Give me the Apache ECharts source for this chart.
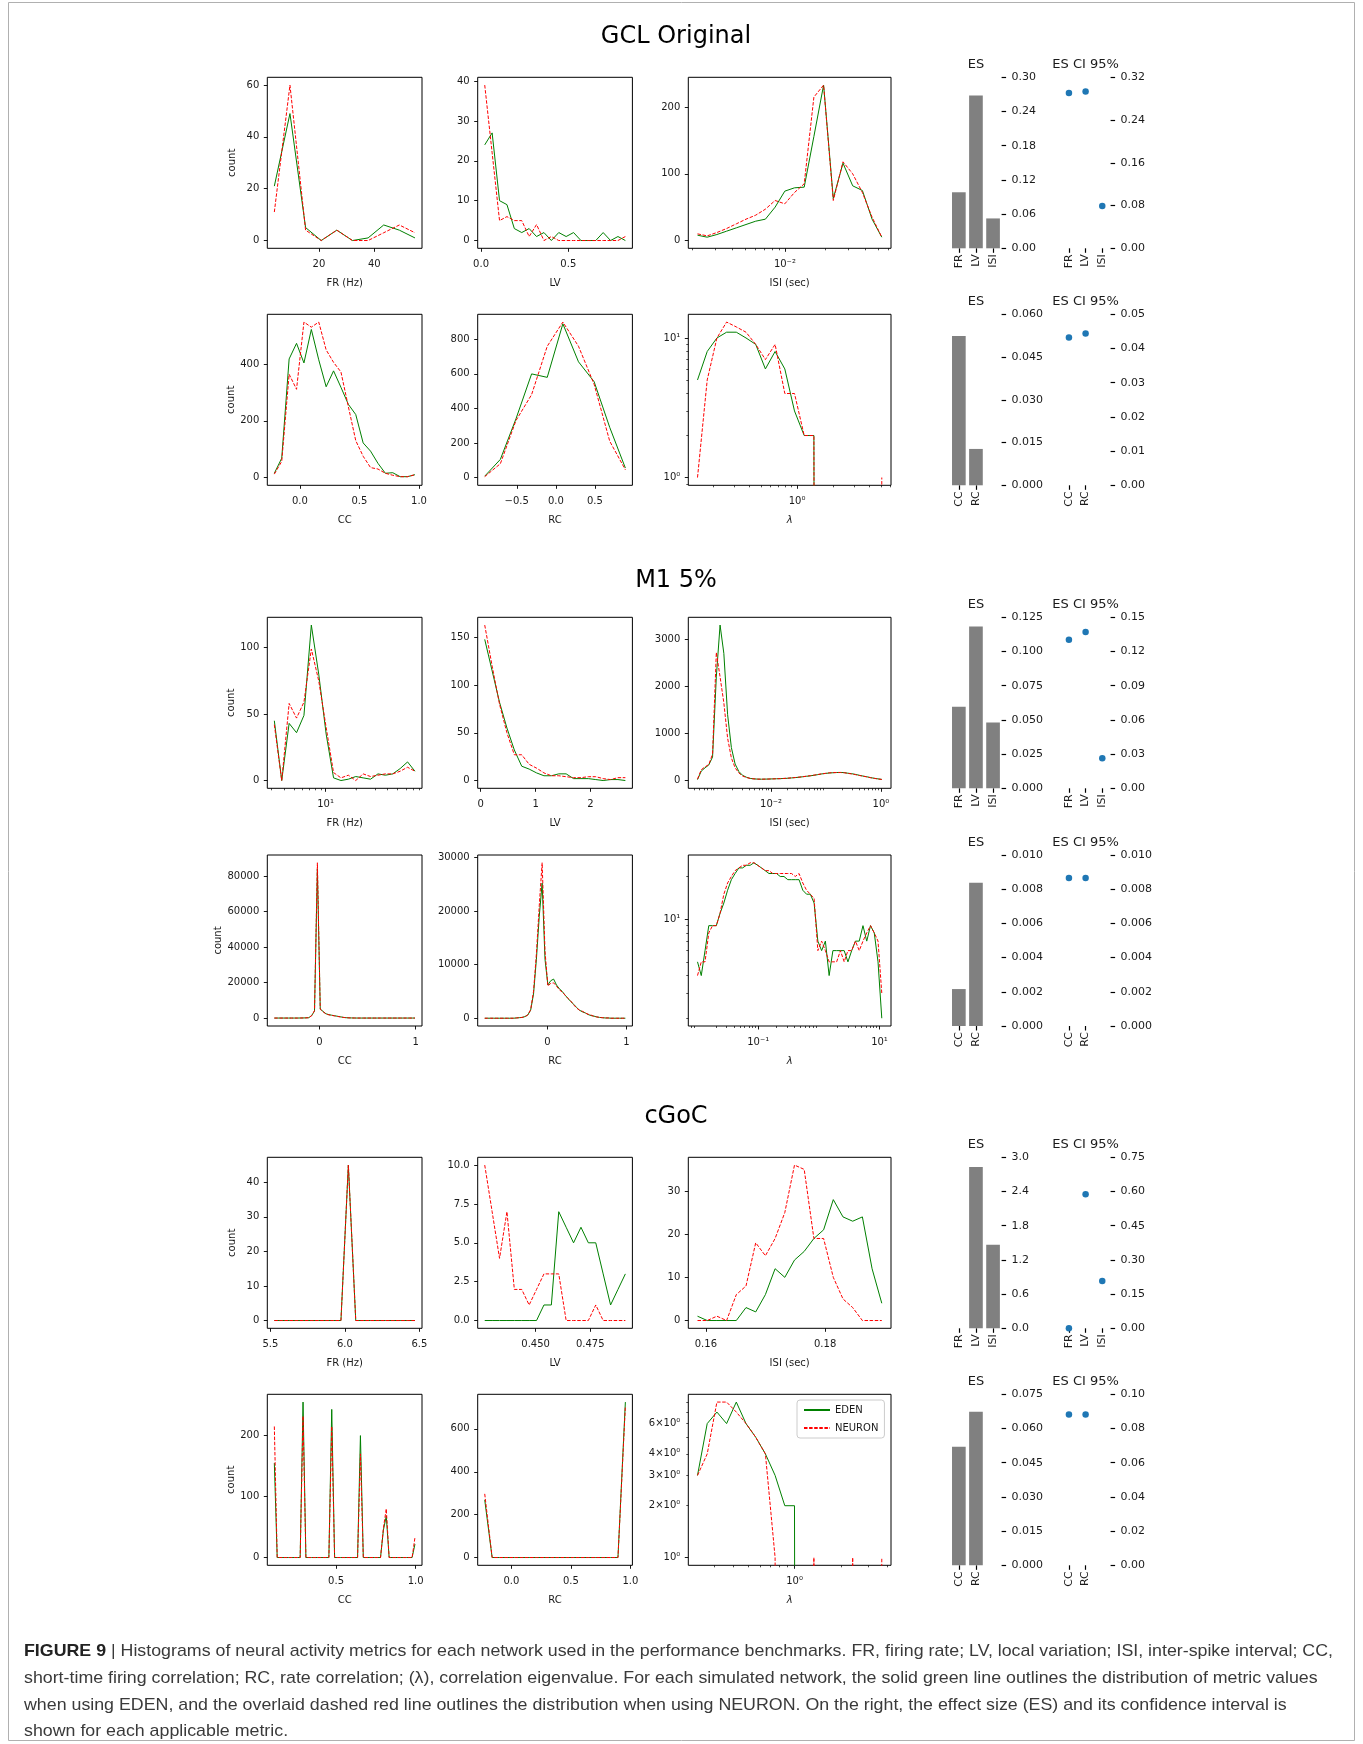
<!DOCTYPE html>
<html>
<head>
<meta charset="utf-8">
<script src="https://cdn.jsdelivr.net/npm/echarts@6/dist/echarts.min.js"></script>
<style>
  html, body { margin: 0; padding: 0; background: #fff; }
  #chart { width: 1363px; height: 1744px; }
</style>
</head>
<body>
<div id="chart"></div>
<script>
// ---------- labels ----------
const sectionTitles = ['GCL Original', 'M1 5%', 'cGoC'];
const metricsA = ['FR', 'LV', 'ISI'];
const metricsB = ['CC', 'RC', ''];
const seriesNames = ['EDEN', 'NEURON'];

// ---------- GCL Original: histogram counts ----------
// bins: [first bin centre, last bin centre, number of bins]
const gclFrBins = [3.9, 54.7, 10];
const gclFrEden = [21, 49, 5, 0, 4, 0, 1, 6, 4, 1];
const gclFrNeuron = [11, 60, 4, 0, 4, 0, 0, 3, 6, 3];

const gclLvBins = [0.021, 0.827, 20];
const gclLvEden = [24, 27, 10, 9, 3, 2, 3, 1, 2, 0, 2, 1, 2, 0, 0, 0, 2, 0, 1, 0];
const gclLvNeuron = [39, 22, 5, 6, 5, 5, 1, 4, 0, 1, 0, 0, 0, 0, 0, 0, 0, 0, 0, 1];

const gclIsiBins = [0.0022, 0.0536, 20];
const gclIsiEden = [8, 5, 9, 14, 19, 24, 29, 32, 50, 74, 79, 80, 156, 233, 63, 116, 82, 75, 32, 5];
const gclIsiNeuron = [10, 7, 12, 18, 25, 32, 38, 47, 60, 55, 72, 85, 215, 233, 60, 118, 100, 72, 35, 5];

const gclCcBins = [-0.214, 0.966, 20];
const gclCcEden = [15, 68, 418, 473, 404, 522, 415, 320, 376, 318, 258, 222, 122, 93, 50, 15, 17, 3, 3, 10];
const gclCcNeuron = [12, 57, 364, 311, 548, 530, 548, 450, 406, 372, 250, 130, 75, 35, 30, 15, 8, 3, 3, 10];

const gclRcBins = [-0.91, 0.89, 10];
const gclRcEden = [8, 105, 340, 600, 580, 890, 670, 555, 290, 55];
const gclRcNeuron = [5, 80, 330, 480, 760, 900, 760, 540, 210, 45];

const gclLamBins = [0.149, 5.06, 20];
const gclLamEden = [5, 8, 10, 11, 11, 10, 9, 6, 8, 6, 3, 2, 2, 0, 0, 0, 0, 0, 0, 0];
const gclLamNeuron = [1, 5, 10, 13, 12, 11, 9, 7, 9, 4, 4, 2, 2, 0, 0, 0, 0, 0, 0, 1];

// ---------- M1 5%: histogram counts ----------
const m1FrBins = [3.184, 73.45, 20];
const m1FrEden = [45, 0, 43, 36, 49, 117, 80, 35, 2, 0, 1, 3, 2, 1, 5, 4, 5, 9, 14, 7];
const m1FrNeuron = [42, 0, 58, 47, 59, 99, 75, 40, 6, 2, 4, 0, 5, 3, 4, 5, 5, 7, 10, 7];

const m1LvBins = [0.073, 2.638, 20];
const m1LvEden = [148, 115, 82, 55, 32, 15, 12, 8, 5, 5, 7, 7, 2, 2, 2, 1, 0, 1, 1, 0];
const m1LvNeuron = [163, 120, 80, 50, 27, 27, 17, 13, 8, 5, 5, 4, 3, 3, 4, 4, 2, 1, 3, 3];

const m1IsiBins = [0.000457, 1.037, 50];
const m1IsiEden = [20, 200, 270, 330, 500, 2200, 3300, 2700, 1400, 700, 350, 190, 110, 70, 45, 35, 30, 28, 30, 32,
  35, 38, 40, 44, 48, 55, 62, 70, 80, 90, 100, 112, 125, 140, 150, 160, 165, 170, 172, 168,
  155, 145, 130, 112, 95, 80, 62, 48, 35, 25];
const m1IsiNeuron = [30, 230, 290, 340, 560, 2720, 2200, 1650, 900, 480, 270, 160, 95, 65, 45, 35, 30, 29, 30, 32,
  35, 37, 40, 45, 50, 57, 64, 72, 82, 92, 102, 115, 128, 142, 152, 162, 168, 170, 170, 165,
  152, 140, 125, 108, 92, 78, 60, 46, 33, 22];

const m1CcBins = [-0.468, 0.993, 50];
const m1CcEden = [100, 100, 100, 100, 100, 100, 100, 100, 100, 120, 150, 200, 300, 1500, 4000, 84000, 5200, 3800, 2500, 2000,
  1700, 1400, 1100, 800, 500, 300, 200, 150, 120, 100, 100, 100, 100, 100, 100, 100, 100, 100, 100, 100,
  100, 100, 100, 100, 100, 100, 100, 100, 100, 100];
const m1CcNeuron = [100, 100, 100, 100, 100, 100, 100, 100, 100, 120, 150, 200, 300, 1400, 4300, 87500, 5000, 3600, 2400, 1900,
  1600, 1300, 1000, 750, 450, 300, 200, 150, 120, 100, 100, 100, 100, 100, 100, 100, 100, 100, 100, 100,
  100, 100, 100, 100, 100, 100, 100, 100, 100, 100];

const m1RcBins = [-0.791, 0.986, 50];
const m1RcEden = [0, 0, 0, 0, 0, 0, 0, 0, 0, 0, 0, 50, 100, 150, 300, 600, 1500, 4500, 11000, 19000,
  25200, 11000, 6200, 7000, 7300, 6200, 5500, 5000, 4300, 3700, 3100, 2600, 2000, 1500, 1200, 1000, 700, 500, 400, 250,
  150, 100, 50, 50, 0, 0, 0, 0, 0, 0];
const m1RcNeuron = [0, 0, 0, 0, 0, 0, 0, 0, 0, 0, 0, 50, 100, 150, 300, 600, 1600, 5000, 12000, 21000,
  29000, 12500, 6000, 6500, 6600, 6000, 5300, 4900, 4300, 3700, 3200, 2500, 1900, 1500, 1300, 1000, 750, 600, 350, 250,
  150, 100, 50, 50, 0, 0, 0, 0, 0, 0];

const m1LamBins = [0.01, 10.91, 50];
const m1LamEden = [5, 4, 6, 9, 9, 9, 11, 13, 16, 19, 21, 23, 23, 24, 24, 25, 24, 23, 22, 21,
  21, 21, 20, 20, 19, 19, 19, 19, 16, 15, 15, 13, 7, 6, 7, 4, 6, 6, 6, 6,
  5, 6, 7, 7, 9, 7, 9, 8, 5, 2];
const m1LamNeuron = [4, 5, 5, 8, 9, 9, 11, 15, 18, 20, 22, 23, 24, 24, 25, 25, 24, 23, 22, 22,
  21, 21, 21, 21, 21, 21, 20, 21, 18, 16, 15, 14, 6, 7, 6, 5, 5, 5, 6, 5,
  6, 6, 7, 6, 7, 8, 9, 8, 7, 3];

// ---------- cGoC: histogram counts ----------
const goFrBins = [5.526, 6.47, 20];
const goFrEden = [0, 0, 0, 0, 0, 0, 0, 0, 0, 0, 45, 0, 0, 0, 0, 0, 0, 0, 0, 0];
const goFrNeuron = [0, 0, 0, 0, 0, 0, 0, 0, 0, 0, 45, 0, 0, 0, 0, 0, 0, 0, 0, 0];

const goLvBins = [0.4267, 0.4911, 20];
const goLvEden = [0, 0, 0, 0, 0, 0, 0, 0, 1, 1, 7, 6, 5, 6, 5, 5, 3, 1, 2, 3];
const goLvNeuron = [10, 7, 4, 7, 2, 2, 1, 2, 3, 3, 3, 0, 0, 0, 0, 1, 0, 0, 0, 0];

const goIsiBins = [0.1586, 0.1895, 20];
const goIsiEden = [1, 0, 0, 0, 0, 3, 2, 6, 12, 10, 14, 16, 19, 21, 28, 24, 23, 24, 12, 4];
const goIsiNeuron = [0, 0, 1, 0, 6, 8, 18, 15, 19, 25, 36, 35, 19, 19, 10, 5, 3, 0, 0, 0];

const goCcBins = [0.1125, 0.9956, 50];
const goCcEden = [155, 0, 0, 0, 0, 0, 0, 0, 0, 0, 255, 0, 0, 0, 0, 0, 0, 0, 0, 0,
  243, 0, 0, 0, 0, 0, 0, 0, 0, 0, 200, 0, 0, 0, 0, 0, 0, 0, 45, 68,
  0, 0, 0, 0, 0, 0, 0, 0, 0, 22];
const goCcNeuron = [215, 0, 0, 0, 0, 0, 0, 0, 0, 0, 232, 0, 0, 0, 0, 0, 0, 0, 0, 0,
  215, 0, 0, 0, 0, 0, 0, 0, 0, 0, 170, 0, 0, 0, 0, 0, 0, 0, 48, 80,
  0, 0, 0, 0, 0, 0, 0, 0, 0, 33];

const goRcBins = [-0.224, 0.958, 20];
const goRcEden = [269, 0, 0, 0, 0, 0, 0, 0, 0, 0, 0, 0, 0, 0, 0, 0, 0, 0, 0, 725];
const goRcNeuron = [297, 0, 0, 0, 0, 0, 0, 0, 0, 0, 0, 0, 0, 0, 0, 0, 0, 0, 0, 706];

const goLamBins = [0.2335, 3.70, 20];
const goLamEden = [3, 6, 7, 6, 8, 6, 5, 4, 3, 2, 2, 0, 0, 0, 0, 0, 0, 0, 0, 0];
const goLamNeuron = [3, 4, 8, 8, 7, 6, 5, 4, 1, 0, 0, 0, 1, 0, 0, 0, 1, 0, 0, 1];

// ---------- effect sizes ----------
const esGclA = [0.0983, 0.268, 0.0524];
const ciGclA = [0.2906, 0.2936, 0.0792];
const esGclB = [0.0524, 0.01276];
const ciGclB = [0.0432, 0.0444];
const esM1A = [0.0596, 0.1182, 0.0481];
const ciM1A = [0.1304, 0.1372, 0.0264];
const esM1B = [0.00216, 0.00838];
const ciM1B = [0.00865, 0.00865];
const esGoA = [0, 2.829, 1.465];
const ciGoA = [0.0, 0.588, 0.207];
const esGoB = [0.052, 0.0673];
const ciGoB = [0.0882, 0.0882];

// effect-size axis ticks: [top, step, decimals]
const esTicks = [[0.30, 0.06, 2], [0.060, 0.015, 3], [0.125, 0.025, 3], [0.010, 0.002, 3], [3.0, 0.6, 1], [0.075, 0.015, 3]];
const ciTicks = [[0.32, 0.08, 2], [0.05, 0.01, 2], [0.15, 0.03, 2], [0.010, 0.002, 3], [0.75, 0.15, 2], [0.10, 0.02, 2]];

// ---------- histogram tick values ----------
const gclFrXT = [20, 40], gclFrYT = [0, 20, 40, 60];
const gclLvXT = [0, 0.5], gclLvYT = [0, 10, 20, 30, 40];
const gclIsiXT = [0.01], gclIsiYT = [0, 100, 200];
const gclCcXT = [0, 0.5, 1.0], gclCcYT = [0, 200, 400];
const gclRcXT = [-0.5, 0, 0.5], gclRcYT = [0, 200, 400, 600, 800];
const gclLamXT = [1], gclLamYT = [1, 10];
const m1FrXT = [10], m1FrYT = [0, 50, 100];
const m1LvXT = [0, 1, 2], m1LvYT = [0, 50, 100, 150];
const m1IsiXT = [0.01, 1], m1IsiYT = [0, 1000, 2000, 3000];
const m1CcXT = [0, 1], m1CcYT = [0, 20000, 40000, 60000, 80000];
const m1RcXT = [0, 1], m1RcYT = [0, 10000, 20000, 30000];
const m1LamXT = [0.1, 10], m1LamYT = [10];
const goFrXT = [5.5, 6.0, 6.5], goFrYT = [0, 10, 20, 30, 40];
const goLvXT = [0.45, 0.475], goLvYT = [0, 2.5, 5, 7.5, 10];
const goIsiXT = [0.16, 0.18], goIsiYT = [0, 10, 20, 30];
const goCcXT = [0.5, 1.0], goCcYT = [0, 100, 200];
const goRcXT = [0, 0.5, 1.0], goRcYT = [0, 200, 400, 600];
const goLamXT = [1], goLamYT = [1, 2, 3, 4, 6];

const captionLead = 'FIGURE 9';
const captionLines = [
  ' | Histograms of neural activity metrics for each network used in the performance benchmarks. FR, firing rate; LV, local variation; ISI, inter-spike interval; CC,',
  'short-time firing correlation; RC, rate correlation; (\u03bb), correlation eigenvalue. For each simulated network, the solid green line outlines the distribution of metric values',
  'when using EDEN, and the overlaid dashed red line outlines the distribution when using NEURON. On the right, the effect size (ES) and its confidence interval is',
  'shown for each applicable metric.'
];

// ---------- layout ----------
const FONT = 'DejaVu Sans';
const TXT = '#1a1a1a';
const colLeft = [267.3, 477.7, 688.3];
const colWidth = [154.7, 154.7, 202.7];
const rowTop = [77.3, 314.3, 617.3, 855, 1157.3, 1394.3];
const ROW_H = 171;
const ES_LEFT = 950.3, ES_W = 51.3, CI_LEFT = 1060.6, CI_W = 50;
const GREEN = '#008000', RED = '#ff0000';

const panels = [
  { row: 0, col: 0, bins: gclFrBins, eden: gclFrEden, neuron: gclFrNeuron, xName: 'FR (Hz)', xt: gclFrXT, xd: 0, yt: gclFrYT, yd: 0 },
  { row: 0, col: 1, bins: gclLvBins, eden: gclLvEden, neuron: gclLvNeuron, xName: 'LV', xt: gclLvXT, xd: 1, yt: gclLvYT, yd: 0 },
  { row: 0, col: 2, bins: gclIsiBins, eden: gclIsiEden, neuron: gclIsiNeuron, xName: 'ISI (sec)', xLog: true, xt: gclIsiXT, yt: gclIsiYT, yd: 0 },
  { row: 1, col: 0, bins: gclCcBins, eden: gclCcEden, neuron: gclCcNeuron, xName: 'CC', xt: gclCcXT, xd: 1, yt: gclCcYT, yd: 0 },
  { row: 1, col: 1, bins: gclRcBins, eden: gclRcEden, neuron: gclRcNeuron, xName: 'RC', xt: gclRcXT, xd: 1, yt: gclRcYT, yd: 0 },
  { row: 1, col: 2, bins: gclLamBins, eden: gclLamEden, neuron: gclLamNeuron, xName: '\u03bb', xLog: true, yLog: true, xt: gclLamXT, yt: gclLamYT },
  { row: 2, col: 0, bins: m1FrBins, eden: m1FrEden, neuron: m1FrNeuron, xName: 'FR (Hz)', xLog: true, xt: m1FrXT, yt: m1FrYT, yd: 0 },
  { row: 2, col: 1, bins: m1LvBins, eden: m1LvEden, neuron: m1LvNeuron, xName: 'LV', xt: m1LvXT, xd: 0, yt: m1LvYT, yd: 0 },
  { row: 2, col: 2, bins: m1IsiBins, eden: m1IsiEden, neuron: m1IsiNeuron, xName: 'ISI (sec)', xLog: true, xt: m1IsiXT, yt: m1IsiYT, yd: 0 },
  { row: 3, col: 0, bins: m1CcBins, eden: m1CcEden, neuron: m1CcNeuron, xName: 'CC', xt: m1CcXT, xd: 0, yt: m1CcYT, yd: 0 },
  { row: 3, col: 1, bins: m1RcBins, eden: m1RcEden, neuron: m1RcNeuron, xName: 'RC', xt: m1RcXT, xd: 0, yt: m1RcYT, yd: 0 },
  { row: 3, col: 2, bins: m1LamBins, eden: m1LamEden, neuron: m1LamNeuron, xName: '\u03bb', xLog: true, yLog: true, xt: m1LamXT, yt: m1LamYT },
  { row: 4, col: 0, bins: goFrBins, eden: goFrEden, neuron: goFrNeuron, xName: 'FR (Hz)', xt: goFrXT, xd: 1, yt: goFrYT, yd: 0 },
  { row: 4, col: 1, bins: goLvBins, eden: goLvEden, neuron: goLvNeuron, xName: 'LV', xt: goLvXT, xd: 3, yt: goLvYT, yd: 1 },
  { row: 4, col: 2, bins: goIsiBins, eden: goIsiEden, neuron: goIsiNeuron, xName: 'ISI (sec)', xt: goIsiXT, xd: 2, yt: goIsiYT, yd: 0 },
  { row: 5, col: 0, bins: goCcBins, eden: goCcEden, neuron: goCcNeuron, xName: 'CC', xt: goCcXT, xd: 1, yt: goCcYT, yd: 0 },
  { row: 5, col: 1, bins: goRcBins, eden: goRcEden, neuron: goRcNeuron, xName: 'RC', xt: goRcXT, xd: 1, yt: goRcYT, yd: 0 },
  { row: 5, col: 2, bins: goLamBins, eden: goLamEden, neuron: goLamNeuron, xName: '\u03bb', xLog: true, yLog: true, xt: goLamXT, yt: goLamYT }
];

const esBlocks = [
  { row: 0, cats: metricsA, es: esGclA, ci: ciGclA },
  { row: 1, cats: metricsB, es: esGclB, ci: ciGclB },
  { row: 2, cats: metricsA, es: esM1A, ci: ciM1A },
  { row: 3, cats: metricsB, es: esM1B, ci: ciM1B },
  { row: 4, cats: metricsA, es: esGoA, ci: ciGoA },
  { row: 5, cats: metricsB, es: esGoB, ci: ciGoB }
];

// ---------- helpers ----------
function binCentres(b, log) {
  const [lo, hi, n] = b;
  const out = [];
  for (let i = 0; i < n; i++) {
    const t = i / (n - 1);
    out.push(log ? Math.pow(10, Math.log10(lo) + t * (Math.log10(hi) - Math.log10(lo))) : lo + t * (hi - lo));
  }
  return out;
}
function pad(lo, hi) { const d = hi - lo; return [lo - 0.05 * d, hi + 0.05 * d]; }
function xRange(b, log) {
  if (!log) return pad(b[0], b[1]);
  const r = pad(Math.log10(b[0]), Math.log10(b[1]));
  return [Math.pow(10, r[0]), Math.pow(10, r[1])];
}
function yRange(vals, log) {
  if (!log) return pad(Math.min(0, ...vals), Math.max(...vals));
  const pos = vals.filter(v => v > 0);
  const r = pad(Math.log10(Math.min(...pos)), Math.log10(Math.max(...pos)));
  return [Math.pow(10, r[0]), Math.pow(10, r[1])];
}
const SUP = { '0': '\u2070', '1': '\u00b9', '2': '\u00b2', '3': '\u00b3', '4': '\u2074', '5': '\u2075', '6': '\u2076', '7': '\u2077', '8': '\u2078', '9': '\u2079', '-': '\u207b' };
function fmtLog(v) {
  const k = Math.floor(Math.log10(v) + 1e-9);
  const m = Math.round(v / Math.pow(10, k));
  const e = String(k).split('').map(c => SUP[c]).join('');
  return (m === 1 ? '' : m + '\u00d7') + '10' + e;
}
function fmtNum(v, d) {
  const s = Math.abs(v).toFixed(d);
  return (v < -1e-12 ? '\u2212' : '') + s;
}
function logMinors(r) {
  const out = [];
  for (let k = Math.floor(Math.log10(r[0])) - 1; k <= Math.ceil(Math.log10(r[1])); k++) {
    for (let m = 2; m <= 9; m++) {
      const v = m * Math.pow(10, k);
      if (v >= r[0] && v <= r[1]) out.push(v);
    }
  }
  return out;
}
function isMajor(v) { const l = Math.log10(v); return Math.abs(l - Math.round(l)) < 1e-6; }

const grids = [], xAxes = [], yAxes = [], series = [], graphics = [];
const hiddenLine = { show: false, onZero: false };

function histAxis(dim, gi, log, range, ticks, dec, name) {
  const tickVals = log ? ticks.filter(isMajor) : ticks;
  const ax = {
    gridIndex: gi,
    type: log ? 'log' : 'value',
    min: range[0], max: range[1],
    position: dim === 'x' ? 'bottom' : 'left',
    axisLine: hiddenLine,
    splitLine: { show: false },
    axisTick: { show: true, length: 3.5, lineStyle: { color: '#000', width: 0.9 }, customValues: tickVals },
    axisLabel: {
      show: true, customValues: ticks, fontSize: 10, color: TXT, fontFamily: FONT,
      margin: dim === 'x' ? 11 : 8,
      formatter: v => log ? fmtLog(v) : fmtNum(v, dec)
    },
    axisPointer: { show: false }
  };
  if (log) ax.logBase = 10;
  if (name) {
    ax.name = name;
    ax.nameLocation = 'middle';
    ax.nameGap = 30;
    ax.nameTextStyle = { fontSize: 10, color: TXT, fontFamily: FONT, fontStyle: name === '\u03bb' ? 'italic' : 'normal' };
  }
  return ax;
}
function minorAxis(dim, gi, range) {
  return {
    gridIndex: gi, type: 'log', logBase: 10, min: range[0], max: range[1],
    position: dim === 'x' ? 'bottom' : 'left',
    axisLine: hiddenLine, splitLine: { show: false },
    axisTick: { show: true, length: 2, lineStyle: { color: '#000', width: 0.7 }, customValues: logMinors(range) },
    axisLabel: { show: false }, axisPointer: { show: false }
  };
}

// ---------- histogram panels ----------
panels.forEach(p => {
  const gi = grids.length;
  grids.push({
    left: colLeft[p.col], top: rowTop[p.row], width: colWidth[p.col], height: ROW_H,
    show: true, borderColor: '#000', borderWidth: 1, containLabel: false, outerBoundsMode: 'none'
  });
  const xs = binCentres(p.bins, !!p.xLog);
  const xr = xRange(p.bins, !!p.xLog);
  const yr = yRange(p.eden.concat(p.neuron), !!p.yLog);
  const xi = xAxes.length;
  xAxes.push(histAxis('x', gi, !!p.xLog, xr, p.xt, p.xd, p.xName));
  if (p.xLog) xAxes.push(minorAxis('x', gi, xr));
  const yi = yAxes.length;
  yAxes.push(histAxis('y', gi, !!p.yLog, yr, p.yt, p.yd, p.col === 0 ? 'count' : null));
  if (p.yLog) yAxes.push(minorAxis('y', gi, yr));
  // empty bins on a log axis drop far below the frame and are clipped there
  const toY = v => (p.yLog && v <= 0) ? 1e-30 : v;
  [[p.eden, seriesNames[0], GREEN, 'solid', 2], [p.neuron, seriesNames[1], RED, [3.5, 1.6], 3]].forEach(([vals, nm, col, type, z]) => {
    series.push({
      type: 'line', name: nm, xAxisIndex: xi, yAxisIndex: yi,
      data: xs.map((x, i) => [x, toY(vals[i])]),
      symbol: 'none', showSymbol: false, clip: true, silent: true, z: z,
      lineStyle: { color: col, width: 1, type: type },
      itemStyle: { color: col },
      emphasis: { disabled: true }
    });
  });
});

// ---------- effect size panels ----------
const catTickFilter = (i, v) => v !== '';
esBlocks.forEach((b, k) => {
  const top = rowTop[b.row];
  [[ES_LEFT, ES_W, esTicks[k], b.es, 'bar', 'ES'], [CI_LEFT, CI_W, ciTicks[k], b.ci, 'scatter', 'ES CI 95%']].forEach(([left, w, tk, vals, kind, title]) => {
    const gi = grids.length;
    grids.push({ left: left, top: top, width: w, height: ROW_H, show: false, containLabel: false, outerBoundsMode: 'none' });
    const xi = xAxes.length, yi = yAxes.length;
    xAxes.push({
      gridIndex: gi, type: 'category', data: b.cats, boundaryGap: true, position: 'bottom',
      axisLine: hiddenLine, splitLine: { show: false },
      axisTick: { show: true, alignWithLabel: true, length: 4.5, interval: catTickFilter, lineStyle: { color: '#000', width: 1.2 } },
      axisLabel: { rotate: 90, margin: 6, interval: catTickFilter, fontSize: 11, color: TXT, fontFamily: FONT },
      axisPointer: { show: false }
    });
    yAxes.push({
      gridIndex: gi, type: 'value', position: 'right', min: 0, max: tk[0], interval: tk[1],
      axisLine: hiddenLine, splitLine: { show: false },
      axisTick: { show: true, length: 4.5, lineStyle: { color: '#000', width: 1.2 } },
      axisLabel: { margin: 10, fontSize: 11, color: TXT, fontFamily: FONT, formatter: v => v.toFixed(tk[2]) },
      axisPointer: { show: false }
    });
    if (kind === 'bar') {
      series.push({ type: 'bar', xAxisIndex: xi, yAxisIndex: yi, data: vals, barWidth: '80%', silent: true,
        itemStyle: { color: '#808080' }, emphasis: { disabled: true } });
    } else {
      series.push({ type: 'scatter', xAxisIndex: xi, yAxisIndex: yi, data: vals, symbolSize: 6.5, silent: true,
        itemStyle: { color: '#1f77b4', opacity: 1 }, emphasis: { disabled: true } });
    }
    graphics.push({ type: 'text', x: left + w / 2, y: top - 12.5, silent: true,
      style: { text: title, fill: TXT, font: '13px ' + FONT, textAlign: 'center', textVerticalAlign: 'middle' } });
  });
});

// ---------- section titles ----------
const sectionTitleY = [36.5, 581, 1116.5];
sectionTitles.forEach((t, i) => {
  graphics.push({ type: 'text', x: 676, y: sectionTitleY[i], silent: true,
    style: { text: t, fill: '#000', font: '24px ' + FONT, textAlign: 'center', textVerticalAlign: 'middle' } });
});

// ---------- caption (narrowed horizontally to a condensed face) ----------
const CAP_FAMILY = "'Liberation Sans', Arial, sans-serif";
const CAP_SIZE = 17;
const measure = document.createElement('canvas').getContext('2d');
measure.font = 'bold ' + CAP_SIZE + 'px ' + CAP_FAMILY;
const leadW = measure.measureText(captionLead).width;
measure.font = CAP_SIZE + 'px ' + CAP_FAMILY;
const line1W = measure.measureText(captionLines[0]).width;
const CAP_X = 24, CAP_RIGHT = 1333;
const capScale = (CAP_RIGHT - CAP_X) / (leadW + line1W);
const capLineY = [1651, 1678, 1705, 1731.5];
graphics.push({ type: 'text', x: CAP_X, y: capLineY[0], scaleX: capScale, silent: true,
  style: { text: captionLead, fill: '#222', font: 'bold ' + CAP_SIZE + 'px ' + CAP_FAMILY, textAlign: 'left', textVerticalAlign: 'middle' } });
captionLines.forEach((line, i) => {
  graphics.push({ type: 'text', x: CAP_X + (i === 0 ? leadW * capScale : 0), y: capLineY[i], scaleX: capScale, silent: true,
    style: { text: line, fill: '#3a3a3a', font: CAP_SIZE + 'px ' + CAP_FAMILY, textAlign: 'left', textVerticalAlign: 'middle' } });
});

// ---------- frame ----------
graphics.push({ type: 'rect', silent: true, shape: { x: 8.5, y: 2.5, width: 1346, height: 1738 },
  style: { fill: 'none', stroke: '#b0b0b0', lineWidth: 1 } });

const chart = echarts.init(document.getElementById('chart'), null, { renderer: 'canvas', width: 1363, height: 1744 });
chart.setOption({
  animation: false,
  backgroundColor: '#fff',
  textStyle: { fontFamily: FONT },
  grid: grids,
  xAxis: xAxes,
  yAxis: yAxes,
  series: series,
  legend: {
    data: seriesNames, orient: 'vertical', left: 797, top: 1400, selectedMode: false,
    itemWidth: 26, itemHeight: 10, itemGap: 8, padding: [5, 6, 5, 6],
    itemStyle: { opacity: 0 },
    backgroundColor: '#fff', borderColor: '#cccccc', borderWidth: 1, borderRadius: 3,
    textStyle: { fontSize: 10, color: TXT, fontFamily: FONT }
  },
  graphic: { elements: graphics }
});
</script>
</body>
</html>
